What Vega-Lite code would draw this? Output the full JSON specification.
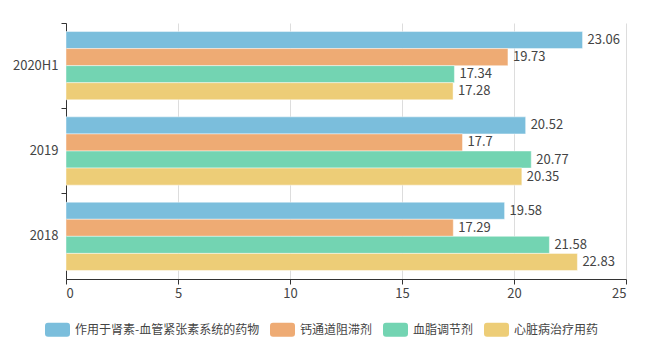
{
  "$schema": "https://vega.github.io/schema/vega-lite/v6.json",
  "width": 560,
  "height": 256,
  "autosize": {"type": "none"},
  "padding": {"left": 66, "top": 23, "right": 29, "bottom": 74},
  "background": "#ffffff",
  "config": {
    "view": {"stroke": null},
    "font": "Noto Sans CJK SC",
    "axis": {"labelFont": "Noto Sans CJK SC", "labelFontSize": 13, "labelColor": "#444444", "domainColor": "#333333", "tickColor": "#333333", "title": null}
  },
  "data": {
    "values": [
      {"year": "2020H1", "cat": "作用于肾素-血管紧张素系统的药物", "v": 23.06},
      {"year": "2020H1", "cat": "钙通道阻滞剂", "v": 19.73},
      {"year": "2020H1", "cat": "血脂调节剂", "v": 17.34},
      {"year": "2020H1", "cat": "心脏病治疗用药", "v": 17.28},
      {"year": "2019", "cat": "作用于肾素-血管紧张素系统的药物", "v": 20.52},
      {"year": "2019", "cat": "钙通道阻滞剂", "v": 17.7},
      {"year": "2019", "cat": "血脂调节剂", "v": 20.77},
      {"year": "2019", "cat": "心脏病治疗用药", "v": 20.35},
      {"year": "2018", "cat": "作用于肾素-血管紧张素系统的药物", "v": 19.58},
      {"year": "2018", "cat": "钙通道阻滞剂", "v": 17.29},
      {"year": "2018", "cat": "血脂调节剂", "v": 21.58},
      {"year": "2018", "cat": "心脏病治疗用药", "v": 22.83}
    ]
  },
  "encoding": {
    "y": {
      "field": "year", "type": "nominal",
      "sort": ["2020H1", "2019", "2018"],
      "scale": {"paddingInner": 0, "paddingOuter": 0},
      "axis": {"bandPosition": 0, "tickSize": 5, "labelPadding": 3, "domainWidth": 1}
    },
    "yOffset": {
      "field": "cat", "type": "nominal",
      "sort": ["作用于肾素-血管紧张素系统的药物", "钙通道阻滞剂", "血脂调节剂", "心脏病治疗用药"],
      "scale": {"paddingInner": 0, "paddingOuter": 0.5}
    },
    "x": {
      "field": "v", "type": "quantitative",
      "scale": {"domain": [0, 25], "nice": false},
      "axis": {"values": [0, 5, 10, 15, 20, 25], "grid": true, "gridColor": "#dddddd", "tickSize": 5, "labelPadding": 3, "domainWidth": 1}
    }
  },
  "layer": [
    {
      "mark": {"type": "bar", "stroke": "#ffffff", "strokeWidth": 1, "strokeOpacity": 0.45},
      "encoding": {
        "color": {
          "field": "cat", "type": "nominal",
          "scale": {
            "domain": ["作用于肾素-血管紧张素系统的药物", "钙通道阻滞剂", "血脂调节剂", "心脏病治疗用药"],
            "range": ["#7bbedc", "#eeab74", "#73d4b2", "#edcd77"]
          },
          "legend": {
            "orient": "none", "direction": "horizontal",
            "legendX": -21, "legendY": 294,
            "title": null,
            "symbolType": "M-0.76,-0.56 H0.76 Q1,-0.56 1,-0.32 V0.32 Q1,0.56 0.76,0.56 H-0.76 Q-1,0.56 -1,0.32 V-0.32 Q-1,-0.56 -0.76,-0.56 Z",
            "symbolSize": 625,
            "symbolStrokeWidth": 0,
            "symbolOpacity": 1,
            "labelFont": "Noto Sans CJK SC",
            "labelFontSize": 12,
            "labelColor": "#444444",
            "labelOffset": 5,
            "columnPadding": 10,
            "labelLimit": 300
          }
        }
      }
    },
    {
      "mark": {"type": "text", "align": "left", "baseline": "middle", "dx": 5, "fontSize": 13, "color": "#444444", "font": "Noto Sans CJK SC"},
      "encoding": {"text": {"field": "v", "type": "quantitative"}}
    }
  ]
}
